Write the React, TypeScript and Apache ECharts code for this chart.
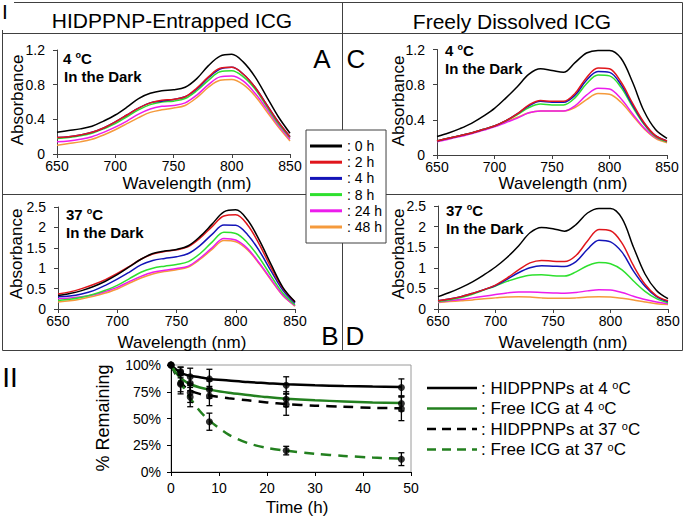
import React, { useEffect, useRef } from 'react';
import * as echarts from 'echarts';

// ---------------- DATA ----------------
const wavelengths = [650, 660, 670, 680, 690, 700, 710, 720, 730, 740, 750, 760, 770, 780, 790, 800, 810, 820, 830, 840, 850];
const timeLabels = ['0 h', '2 h', '4 h', '8 h', '24 h', '48 h'];
const timeColors = ['#000000', '#e0161c', '#1414b8', '#2ee02e', '#ec1cec', '#f59a3c'];

// Panel A: HIDPPNP-entrapped ICG, 4 oC
const a0h = [0.25, 0.27, 0.29, 0.32, 0.38, 0.45, 0.54, 0.64, 0.70, 0.73, 0.74, 0.77, 0.87, 1.02, 1.13, 1.15, 1.06, 0.89, 0.66, 0.43, 0.24];
const a2h = [0.19, 0.20, 0.22, 0.25, 0.30, 0.37, 0.45, 0.53, 0.59, 0.62, 0.63, 0.66, 0.76, 0.89, 0.99, 1.00, 0.92, 0.77, 0.57, 0.37, 0.20];
const a4h = [0.19, 0.20, 0.22, 0.25, 0.30, 0.37, 0.45, 0.53, 0.59, 0.61, 0.63, 0.66, 0.75, 0.88, 0.98, 1.00, 0.92, 0.77, 0.57, 0.37, 0.20];
const a8h = [0.18, 0.19, 0.21, 0.24, 0.29, 0.35, 0.43, 0.51, 0.57, 0.60, 0.61, 0.64, 0.73, 0.85, 0.95, 0.96, 0.89, 0.75, 0.55, 0.35, 0.19];
const a24h = [0.14, 0.15, 0.17, 0.20, 0.25, 0.31, 0.38, 0.46, 0.52, 0.55, 0.56, 0.59, 0.68, 0.80, 0.89, 0.90, 0.84, 0.70, 0.52, 0.33, 0.17];
const a48h = [0.10, 0.12, 0.14, 0.17, 0.22, 0.28, 0.35, 0.42, 0.48, 0.51, 0.53, 0.56, 0.65, 0.77, 0.85, 0.86, 0.80, 0.67, 0.49, 0.31, 0.15];

// Panel B: HIDPPNP-entrapped ICG, 37 oC
const b0h = [0.33, 0.38, 0.45, 0.55, 0.68, 0.84, 1.03, 1.22, 1.36, 1.42, 1.46, 1.55, 1.78, 2.08, 2.38, 2.43, 2.18, 1.68, 1.08, 0.52, 0.18];
const b2h = [0.37, 0.42, 0.50, 0.60, 0.72, 0.87, 1.04, 1.22, 1.35, 1.41, 1.45, 1.53, 1.74, 2.02, 2.28, 2.31, 2.06, 1.58, 1.00, 0.50, 0.17];
const b4h = [0.30, 0.32, 0.37, 0.45, 0.58, 0.73, 0.90, 1.08, 1.19, 1.24, 1.28, 1.36, 1.56, 1.83, 2.06, 2.05, 1.82, 1.42, 0.92, 0.45, 0.14];
const b8h = [0.21, 0.24, 0.29, 0.36, 0.46, 0.58, 0.74, 0.90, 1.00, 1.05, 1.09, 1.16, 1.36, 1.64, 1.88, 1.85, 1.62, 1.25, 0.80, 0.38, 0.10];
const b24h = [0.25, 0.27, 0.30, 0.35, 0.43, 0.53, 0.67, 0.80, 0.90, 0.95, 0.99, 1.05, 1.25, 1.50, 1.73, 1.69, 1.48, 1.12, 0.72, 0.33, 0.08];
const b48h = [0.17, 0.20, 0.25, 0.31, 0.39, 0.49, 0.63, 0.76, 0.86, 0.92, 0.96, 1.03, 1.22, 1.46, 1.68, 1.65, 1.45, 1.10, 0.70, 0.32, 0.07];

// Panel C: freely dissolved ICG, 4 oC
const c0h = [0.21, 0.25, 0.30, 0.36, 0.44, 0.53, 0.65, 0.78, 0.92, 0.98, 0.96, 0.94, 1.05, 1.16, 1.19, 1.19, 1.10, 0.83, 0.50, 0.29, 0.19];
const c2h = [0.16, 0.19, 0.22, 0.25, 0.29, 0.33, 0.39, 0.47, 0.57, 0.62, 0.61, 0.61, 0.70, 0.88, 0.99, 0.98, 0.83, 0.59, 0.37, 0.22, 0.16];
const c4h = [0.16, 0.19, 0.22, 0.25, 0.29, 0.33, 0.39, 0.47, 0.56, 0.61, 0.60, 0.60, 0.68, 0.85, 0.95, 0.94, 0.80, 0.57, 0.36, 0.22, 0.16];
const c8h = [0.16, 0.19, 0.22, 0.25, 0.29, 0.33, 0.39, 0.46, 0.54, 0.58, 0.57, 0.57, 0.65, 0.81, 0.91, 0.90, 0.77, 0.55, 0.35, 0.21, 0.15];
const c24h = [0.15, 0.18, 0.21, 0.24, 0.28, 0.32, 0.37, 0.42, 0.48, 0.50, 0.50, 0.50, 0.56, 0.68, 0.76, 0.75, 0.64, 0.47, 0.31, 0.20, 0.15];
const c48h = [0.16, 0.19, 0.22, 0.25, 0.29, 0.33, 0.38, 0.43, 0.48, 0.50, 0.50, 0.50, 0.54, 0.63, 0.70, 0.69, 0.60, 0.45, 0.30, 0.19, 0.14];

// Panel D: freely dissolved ICG, 37 oC
const d0h = [0.30, 0.40, 0.52, 0.66, 0.83, 1.02, 1.25, 1.53, 1.85, 1.98, 1.95, 1.89, 2.05, 2.33, 2.44, 2.44, 2.20, 1.50, 0.85, 0.45, 0.25];
const d2h = [0.20, 0.24, 0.30, 0.38, 0.47, 0.58, 0.75, 0.95, 1.12, 1.18, 1.16, 1.15, 1.30, 1.65, 1.93, 1.90, 1.60, 1.05, 0.60, 0.32, 0.20];
const d4h = [0.20, 0.24, 0.30, 0.38, 0.47, 0.57, 0.72, 0.88, 1.00, 1.05, 1.04, 1.03, 1.15, 1.45, 1.67, 1.63, 1.38, 0.92, 0.55, 0.30, 0.18];
const d8h = [0.18, 0.22, 0.28, 0.36, 0.46, 0.56, 0.67, 0.76, 0.82, 0.83, 0.81, 0.80, 0.90, 1.05, 1.13, 1.10, 0.95, 0.68, 0.43, 0.25, 0.15];
const d24h = [0.17, 0.20, 0.23, 0.27, 0.31, 0.35, 0.39, 0.41, 0.41, 0.40, 0.39, 0.38, 0.40, 0.44, 0.47, 0.46, 0.40, 0.31, 0.23, 0.17, 0.13];
const d48h = [0.16, 0.18, 0.20, 0.22, 0.25, 0.27, 0.29, 0.30, 0.29, 0.27, 0.26, 0.26, 0.27, 0.29, 0.30, 0.29, 0.26, 0.22, 0.17, 0.13, 0.11];

// Part II: % remaining vs time
const timesH = [0, 2, 4, 8, 24, 48];
const hid4Mean = [100, 94, 89, 87, 81, 79];
const hid4Err = [0, 4, 8, 9, 8, 8];
const free4Mean = [100, 93, 83, 77, 68, 64];
const free4Err = [0, 5, 7, 8, 7, 7];
const hid37Mean = [100, 83, 74, 71, 63, 59];
const hid37Err = [0, 8, 9, 9, 10, 11];
const free37Mean = [100, 82, 70, 47, 20, 12];
const free37Err = [0, 9, 9, 8, 4, 6];

// fitted curves
const fitTimes = [0, 1, 2, 3, 4, 6, 8, 12, 16, 20, 24, 30, 36, 42, 48];
const fitHid4 = [100, 96, 93, 91, 90, 88.5, 87, 85.5, 84, 83, 82, 81, 80.3, 79.8, 79.5];
const fitFree4 = [100, 93, 88, 84.5, 82, 79, 77, 74, 72, 70, 68.5, 67, 66, 65, 64.5];
const fitHid37 = [100, 91, 84, 79, 76, 73, 71.5, 69, 67, 65, 63.5, 62, 61, 60, 59.5];
const fitFree37 = [100, 92, 84, 76, 69, 57, 48, 35, 27, 22.5, 20, 17, 15, 13.5, 12.5];

const seriesNames2 = ['HIDPPNPs at 4 ', 'Free ICG at 4 ', 'HIDPPNPs at 37 ', 'Free ICG at 37 '];

// ---------------- STYLE ----------------
const FF = '"Liberation Sans", Arial, Helvetica, sans-serif';
const GREEN = '#23801f';
const FRAME = '#404040';

const panels = [
  [a0h, a2h, a4h, a8h, a24h, a48h],
  [b0h, b2h, b4h, b8h, b24h, b48h],
  [c0h, c2h, c4h, c8h, c24h, c48h],
  [d0h, d2h, d4h, d8h, d24h, d48h],
];
const panelMax = [1.2, 2.5, 1.2, 2.5];
const panelInterval = [0.4, 0.5, 0.4, 0.5];

function txt(text: string, x: number, y: number, size: number, o: any = {}) {
  const align = o.align || 'center';
  return {
    type: 'text',
    x,
    y,
    rotation: o.rotation || 0,
    z: 20,
    style: {
      text,
      fontSize: size,
      fontFamily: FF,
      fontWeight: o.bold ? 'bold' : 'normal',
      fill: '#000',
      align,
      textAlign: align,
      verticalAlign: 'middle',
      textVerticalAlign: 'middle',
      lineHeight: o.lineHeight,
      rich: o.rich,
    },
  };
}

function line(x1: number, y1: number, x2: number, y2: number, color = FRAME, width = 1, dash?: number[]) {
  return {
    type: 'line',
    z: 5,
    shape: { x1, y1, x2, y2 },
    style: { stroke: color, lineWidth: width, lineDash: dash },
  };
}

const supBold = { s: { fontSize: 9, fontWeight: 'bold', fontFamily: FF, verticalAlign: 'top', fill: '#000' } };
const supNorm = { s: { fontSize: 11, fontFamily: FF, verticalAlign: 'top', fill: '#000' } };

export default function App() {
  const ref = useRef<HTMLDivElement>(null);

  useEffect(() => {
    if (!ref.current) return;
    const chart = echarts.init(ref.current, undefined, { renderer: 'svg' });

    const grids = [
      { left: 57, top: 50, width: 233, height: 104 },
      { left: 58, top: 207, width: 237, height: 102 },
      { left: 437, top: 49.5, width: 230, height: 105.5 },
      { left: 438, top: 206, width: 230, height: 103 },
      { left: 171, top: 365, width: 240, height: 107, show: true, borderColor: '#9a9a9a', borderWidth: 1 },
    ];

    const axisCommon = {
      axisLine: { show: true, lineStyle: { color: FRAME, width: 1 } },
      axisTick: { show: true, length: 4, lineStyle: { color: FRAME, width: 1 } },
      splitLine: { show: false },
    };

    const xAxes: any[] = [0, 1, 2, 3].map((i) => ({
      type: 'value',
      gridIndex: i,
      min: 650,
      max: 850,
      interval: 50,
      ...axisCommon,
      axisLabel: { fontSize: 14, lineHeight: 12, color: '#000', margin: 6, fontFamily: FF },
    }));
    const yAxes: any[] = [0, 1, 2, 3].map((i) => ({
      type: 'value',
      gridIndex: i,
      min: 0,
      max: panelMax[i],
      interval: panelInterval[i],
      ...axisCommon,
      axisLabel: { fontSize: 14, lineHeight: 12, color: '#000', margin: 12, fontFamily: FF },
    }));
    xAxes.push({
      type: 'value',
      gridIndex: 4,
      min: 0,
      max: 50,
      interval: 10,
      axisLine: { show: true, lineStyle: { color: '#000', width: 1 } },
      axisTick: { show: true, length: 4, lineStyle: { color: '#000' } },
      splitLine: { show: false },
      axisLabel: { fontSize: 14, lineHeight: 12, color: '#000', margin: 10, fontFamily: FF },
    });
    yAxes.push({
      type: 'value',
      gridIndex: 4,
      min: 0,
      max: 100,
      interval: 25,
      axisLine: { show: true, lineStyle: { color: '#000', width: 1 } },
      axisTick: { show: true, length: 4, lineStyle: { color: '#000' } },
      splitLine: { show: false },
      axisLabel: { fontSize: 14, lineHeight: 12, color: '#000', margin: 10, fontFamily: FF, formatter: '{value}%' },
    });

    const series: any[] = [];
    panels.forEach((panel, p) => {
      panel.forEach((vals, k) => {
        series.push({
          type: 'line',
          name: timeLabels[k],
          xAxisIndex: p,
          yAxisIndex: p,
          data: wavelengths.map((w, i) => [w, vals[i]]),
          smooth: 0.35,
          showSymbol: false,
          symbol: 'none',
          color: timeColors[k],
          itemStyle: { color: timeColors[k] },
          lineStyle: { color: timeColors[k], width: 1.5 },
          z: 10 - k,
        });
      });
    });

    const fits = [
      { data: fitHid4, color: '#000', dash: undefined },
      { data: fitFree4, color: GREEN, dash: undefined },
      { data: fitHid37, color: '#000', dash: [10, 7] },
      { data: fitFree37, color: GREEN, dash: [10, 7] },
    ];
    fits.forEach((f, i) => {
      series.push({
        type: 'line',
        name: seriesNames2[i] + 'oC fit',
        xAxisIndex: 4,
        yAxisIndex: 4,
        data: fitTimes.map((t, j) => [t, f.data[j]]),
        smooth: 0.3,
        showSymbol: false,
        symbol: 'none',
        lineStyle: { color: f.color, width: 2.5, type: f.dash || 'solid' },
        z: 3,
      });
    });

    const groups = [
      [hid4Mean, hid4Err],
      [free4Mean, free4Err],
      [hid37Mean, hid37Err],
      [free37Mean, free37Err],
    ];
    groups.forEach(([m, e], i) => {
      series.push({
        type: 'custom',
        name: seriesNames2[i] + 'oC error',
        xAxisIndex: 4,
        yAxisIndex: 4,
        z: 4,
        data: timesH.map((t, j) => [t, m[j] - e[j], m[j] + e[j]]).filter((_, j) => e[j] > 0),
        renderItem: (params: any, api: any) => {
          const t = api.value(0);
          const lo = api.coord([t, api.value(1)]);
          const hi = api.coord([t, api.value(2)]);
          const w = 3;
          const st = { stroke: '#000', lineWidth: 1.3 };
          return {
            type: 'group',
            children: [
              { type: 'line', shape: { x1: lo[0], y1: lo[1], x2: hi[0], y2: hi[1] }, style: st },
              { type: 'line', shape: { x1: lo[0] - w, y1: lo[1], x2: lo[0] + w, y2: lo[1] }, style: st },
              { type: 'line', shape: { x1: hi[0] - w, y1: hi[1], x2: hi[0] + w, y2: hi[1] }, style: st },
            ],
          };
        },
      });
      series.push({
        type: 'scatter',
        name: seriesNames2[i] + 'oC',
        xAxisIndex: 4,
        yAxisIndex: 4,
        z: 6,
        symbol: 'circle',
        symbolSize: 7,
        itemStyle: { color: '#000' },
        data: timesH.map((t, j) => [t, m[j]]),
      });
    });

    const graphic: any[] = [
      // frame of part I
      line(14, 2.5, 682.5, 2.5),
      line(2.5, 30, 2.5, 350.5),
      line(682.5, 2.5, 682.5, 350.5),
      line(2.5, 350.5, 682.5, 350.5),
      line(2.5, 33.5, 682.5, 33.5),
      line(2.5, 194.5, 682.5, 194.5),
      line(342.5, 2.5, 342.5, 350.5),
      // section labels
      txt('I', 5, 11, 21, { align: 'center' }),
      txt('II', 10, 377, 28),
      txt('HIDPPNP-Entrapped ICG', 172, 20, 21),
      txt('Freely Dissolved ICG', 512, 21, 21),
      // panel letters
      txt('A', 322, 59, 26),
      txt('B', 330, 336, 26),
      txt('C', 356, 59, 26),
      txt('D', 355, 336, 26),
      // axis titles
      txt('Absorbance', 17, 100, 17, { rotation: Math.PI / 2 }),
      txt('Absorbance', 16, 254, 17, { rotation: Math.PI / 2 }),
      txt('Absorbance', 398, 101, 17, { rotation: Math.PI / 2 }),
      txt('Absorbance', 398, 254, 17, { rotation: Math.PI / 2 }),
      txt('Wavelength (nm)', 187, 183, 17, { lineHeight: 16 }),
      txt('Wavelength (nm)', 182, 342, 17, { lineHeight: 16 }),
      txt('Wavelength (nm)', 563, 183, 17, { lineHeight: 16 }),
      txt('Wavelength (nm)', 563, 342, 17, { lineHeight: 16 }),
      txt('% Remaining', 103, 418, 18, { rotation: Math.PI / 2 }),
      txt('Time (h)', 297, 507, 17, { lineHeight: 16 }),
      // annotations
      txt('4 {s|o}C', 63, 58, 15, { align: 'left', bold: true, rich: supBold }),
      txt('In the Dark', 64, 76, 15, { align: 'left', bold: true }),
      txt('37 {s|o}C', 66, 214, 15, { align: 'left', bold: true, rich: supBold }),
      txt('In the Dark', 66, 232, 15, { align: 'left', bold: true }),
      txt('4 {s|o}C', 445, 50, 15, { align: 'left', bold: true, rich: supBold }),
      txt('In the Dark', 445, 68, 15, { align: 'left', bold: true }),
      txt('37 {s|o}C', 446, 210, 15, { align: 'left', bold: true, rich: supBold }),
      txt('In the Dark', 446, 228, 15, { align: 'left', bold: true }),
    ];

    // legend of part II
    const legRows = [388, 408.5, 429, 449.5];
    const legStyles = [
      { color: '#000', dash: undefined },
      { color: GREEN, dash: undefined },
      { color: '#000', dash: [9, 6] },
      { color: GREEN, dash: [9, 6] },
    ];
    legRows.forEach((y, i) => {
      graphic.push(line(427, y, 477, y, legStyles[i].color, 2.5, legStyles[i].dash));
      graphic.push(txt(': ' + seriesNames2[i] + '{s|o}C', 481, y, 17, { align: 'left', rich: supNorm }));
    });

    chart.setOption({
      animation: false,
      backgroundColor: '#ffffff',
      textStyle: { fontFamily: FF },
      grid: grids,
      xAxis: xAxes,
      yAxis: yAxes,
      legend: {
        data: timeLabels,
        orient: 'vertical',
        left: 306,
        top: 130,
        padding: [9, 4, 9, 4],
        itemGap: 2.2,
        itemWidth: 32,
        itemHeight: 3,
        icon: 'rect',
        selectedMode: false,
        backgroundColor: '#ffffff',
        borderColor: FRAME,
        borderWidth: 1,
        formatter: ': {name}',
        textStyle: { fontSize: 14, color: '#000', fontFamily: FF, lineHeight: 14 },
        z: 30,
      },
      graphic,
      series,
    });

    return () => chart.dispose();
  }, []);

  return (
    <div
      ref={ref}
      style={{ position: 'fixed', left: 0, top: 0, width: 685, height: 520, background: '#fff' }}
    />
  );
}
